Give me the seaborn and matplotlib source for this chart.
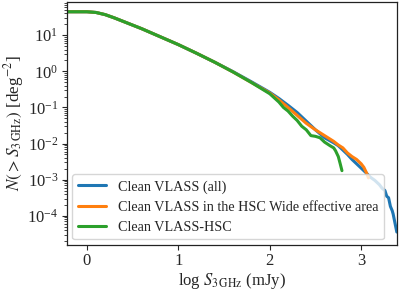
import numpy as np
import pandas as pd
import matplotlib
matplotlib.use("Agg")
import matplotlib.pyplot as plt
import seaborn as sns
from matplotlib.ticker import NullFormatter

# --- data (log10 flux, log10 N(>S)) ---
LABEL_ALL = "Clean VLASS (all)"
LABEL_HSCAREA = "Clean VLASS in the HSC Wide effective area"
LABEL_HSC = "Clean VLASS-HSC"

logs_all = [-0.22, 0.0, 0.1, 0.2, 0.3, 0.4, 0.5, 0.6, 0.7, 0.8, 0.9, 1.0,
            1.2, 1.4, 1.6, 1.8, 2.0, 2.1, 2.2, 2.3, 2.4, 2.5, 2.6, 2.7,
            2.75, 2.8, 2.85, 2.9, 2.95, 3.0, 3.05, 3.1, 3.15, 3.2, 3.23,
            3.26, 3.28, 3.3, 3.32, 3.34, 3.35, 3.37, 3.39]
logn_all = [1.65, 1.65, 1.63, 1.57, 1.48, 1.38, 1.28, 1.18, 1.07, 0.96, 0.85, 0.74,
            0.50, 0.25, -0.01, -0.29, -0.58, -0.75, -0.94, -1.14, -1.38, -1.62, -1.84, -1.98,
            -2.06, -2.18, -2.30, -2.44, -2.56, -2.68, -2.80, -2.93, -3.02, -3.14, -3.24,
            -3.30, -3.46, -3.50, -3.74, -3.86, -3.95, -4.20, -4.45]

logs_area = [-0.22, 0.0, 0.1, 0.2, 0.3, 0.4, 0.5, 0.6, 0.7, 0.8, 0.9, 1.0,
             1.2, 1.4, 1.6, 1.8, 2.0, 2.1, 2.2, 2.3, 2.4, 2.5, 2.55, 2.6,
             2.65, 2.7, 2.75, 2.8, 2.85, 2.9, 2.95, 3.0, 3.03, 3.06, 3.08]
logn_area = [1.65, 1.65, 1.63, 1.57, 1.48, 1.38, 1.28, 1.18, 1.07, 0.96, 0.85, 0.74,
             0.50, 0.25, -0.02, -0.31, -0.60, -0.79, -1.00, -1.22, -1.44, -1.62, -1.70, -1.78,
             -1.86, -1.94, -2.04, -2.12, -2.26, -2.36, -2.44, -2.56, -2.66, -2.82, -2.95]

logs_hsc = [-0.22, 0.0, 0.1, 0.2, 0.3, 0.4, 0.5, 0.6, 0.7, 0.8, 0.9, 1.0,
            1.2, 1.4, 1.6, 1.8, 2.0, 2.1, 2.15, 2.2, 2.25, 2.3, 2.35, 2.4,
            2.45, 2.5, 2.55, 2.6, 2.66, 2.7, 2.72, 2.75, 2.77, 2.79]
logn_hsc = [1.65, 1.65, 1.63, 1.57, 1.48, 1.38, 1.28, 1.18, 1.07, 0.96, 0.85, 0.74,
            0.50, 0.25, -0.02, -0.31, -0.62, -0.85, -1.00, -1.10, -1.24, -1.36, -1.52, -1.62,
            -1.78, -1.80, -1.84, -1.96, -2.06, -2.12, -2.20, -2.36, -2.55, -2.75]


def frame(x, y, label):
    return pd.DataFrame({"logS": x, "N": 10 ** np.array(y), "sample": label})


df = pd.concat([frame(logs_all, logn_all, LABEL_ALL),
                frame(logs_area, logn_area, LABEL_HSCAREA),
                frame(logs_hsc, logn_hsc, LABEL_HSC)], ignore_index=True)

sns.set_style("ticks")
plt.rcParams["font.family"] = ["Liberation Serif", "DejaVu Serif"]
plt.rcParams["mathtext.fontset"] = "stix"
plt.rcParams["xtick.direction"] = "out"
plt.rcParams["ytick.direction"] = "out"

fig = plt.figure(figsize=(4.0, 2.91), dpi=100)
ax = fig.add_axes([0.167, 0.158, 0.825, 0.835])

sns.lineplot(data=df, x="logS", y="N", hue="sample",
             hue_order=[LABEL_ALL, LABEL_HSCAREA, LABEL_HSC],
             palette=["#1f77b4", "#ff7f0e", "#2ca02c"],
             sort=False, estimator=None, linewidth=2.2, ax=ax)

ax.set_yscale("log")
ax.set_xlim(-0.22, 3.39)
ax.set_ylim(1.55e-5, 83)
ax.set_xticks([0, 1, 2, 3])
ax.yaxis.set_minor_formatter(NullFormatter())
ax.tick_params(labelsize=12, length=3.5, width=0.8, pad=2.5)
ax.tick_params(which="minor", length=2, width=0.6)

ax.set_xlabel(r"log $S_{\rm 3\,GHz}$ (mJy)", fontsize=12, labelpad=1)
ax.set_ylabel(r"$N(>S_{\rm 3\,GHz})$ [deg$^{-2}$]", fontsize=12.3, labelpad=1)

for s in ax.spines.values():
    s.set_linewidth(0.9)
    s.set_color("#222222")

ax.legend(loc="lower left", fontsize=10.2, framealpha=0.8,
          handlelength=2.0, borderaxespad=0.4, labelspacing=0.5)

fig.savefig("out.png", dpi=100)
